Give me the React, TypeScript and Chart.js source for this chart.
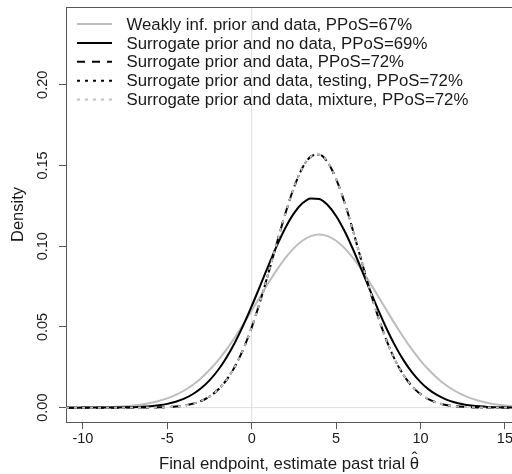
import React, { useEffect, useRef } from "react";
import { Chart, registerables } from "chart.js";

Chart.register(...registerables);

// ---- data ----
const xGrid = [
  -11, -10.5, -10, -9.5, -9, -8.5, -8, -7.5, -7, -6.5, -6, -5.5, -5, -4.5, -4, -3.5, -3, -2.5,
  -2, -1.5, -1, -0.5, 0, 0.5, 1, 1.5, 2, 2.5, 3, 3.5, 4, 4.5, 5, 5.5, 6, 6.5, 7, 7.5, 8, 8.5,
  9, 9.5, 10, 10.5, 11, 11.5, 12, 12.5, 13, 13.5, 14, 14.5, 15, 15.5,
];

const weaklyInfPrior = [
  0.00003, 0.00005, 0.00009, 0.00015, 0.00024, 0.00038, 0.00059, 0.0009, 0.00136, 0.002, 0.00289,
  0.00412, 0.00575, 0.00788, 0.01061, 0.01405, 0.01826, 0.0233, 0.02919, 0.03593, 0.04345, 0.05157,
  0.06014, 0.06886, 0.07744, 0.08553, 0.09277, 0.09883, 0.10339, 0.10624, 0.1072, 0.10624, 0.10339,
  0.09883, 0.09277, 0.08553, 0.07744, 0.06886, 0.06014, 0.05157, 0.04345, 0.03593, 0.02919, 0.0233,
  0.01826, 0.01405, 0.01061, 0.00788, 0.00575, 0.00412, 0.00289, 0.002, 0.00136, 0.0009,
];

const surrogateNoData = [
  0.0, 0.000003, 0.000006, 0.000013, 0.000025, 0.000048, 0.000091, 0.00017, 0.0003, 0.00052, 0.00088,
  0.00146, 0.00234, 0.00367, 0.00559, 0.0083, 0.01201, 0.0169, 0.02317, 0.03096, 0.04024, 0.05096,
  0.06283, 0.07546, 0.08824, 0.10048, 0.11144, 0.12034, 0.12656, 0.12962, 0.12928, 0.12556, 0.11876,
  0.10939, 0.09811, 0.08571, 0.0729, 0.06039, 0.04871, 0.03826, 0.02927, 0.02181, 0.01582, 0.01117,
  0.00769, 0.00516, 0.00336, 0.00214, 0.00132, 0.0008, 0.00047, 0.00027, 0.00015, 0.00008,
];

const surrogateData = [
  0, 0, 0, 0, 0, 0, 0.000003, 0.000007, 0.000017, 0.000039, 0.000085, 0.00018, 0.00036, 0.00071,
  0.00132, 0.00238, 0.00413, 0.00689, 0.01106, 0.01707, 0.02536, 0.0362, 0.04977, 0.06578, 0.08365,
  0.10233, 0.12042, 0.13631, 0.14844, 0.15551, 0.15673, 0.15194, 0.14171, 0.12712, 0.10971, 0.09109,
  0.07275, 0.05589, 0.04131, 0.02937, 0.02009, 0.01322, 0.00837, 0.00509, 0.00298, 0.00168, 0.00091,
  0.00048, 0.00024, 0.00011, 0.00005, 0.00002, 0.00001, 0,
];

const surrogateTesting = [
  0, 0, 0, 0, 0, 0, 0.000003, 0.000007, 0.000017, 0.000039, 0.000085, 0.00018, 0.00036, 0.00071,
  0.00132, 0.00238, 0.00413, 0.00689, 0.01106, 0.01707, 0.02536, 0.0362, 0.04977, 0.06578, 0.08365,
  0.10233, 0.12042, 0.13631, 0.14844, 0.15551, 0.15673, 0.15194, 0.14171, 0.12712, 0.10971, 0.09109,
  0.07275, 0.05589, 0.04131, 0.02937, 0.02009, 0.01322, 0.00837, 0.00509, 0.00298, 0.00168, 0.00091,
  0.00048, 0.00024, 0.00011, 0.00005, 0.00002, 0.00001, 0,
];

const surrogateMixture = [
  0, 0, 0, 0, 0, 0, 0.000003, 0.000007, 0.000017, 0.000039, 0.000085, 0.00018, 0.00036, 0.00071,
  0.00132, 0.00238, 0.00413, 0.00689, 0.01106, 0.01707, 0.02536, 0.0362, 0.04977, 0.06578, 0.08365,
  0.10233, 0.12042, 0.13631, 0.14844, 0.15551, 0.15673, 0.15194, 0.14171, 0.12712, 0.10971, 0.09109,
  0.07275, 0.05589, 0.04131, 0.02937, 0.02009, 0.01322, 0.00837, 0.00509, 0.00298, 0.00168, 0.00091,
  0.00048, 0.00024, 0.00011, 0.00005, 0.00002, 0.00001, 0,
];

const seriesLabels = [
  "Weakly inf. prior and data, PPoS=67%",
  "Surrogate prior and no data, PPoS=69%",
  "Surrogate prior and data, PPoS=72%",
  "Surrogate prior and data, testing, PPoS=72%",
  "Surrogate prior and data, mixture, PPoS=72%",
];

const xTicks = [-10, -5, 0, 5, 10, 15];
const yTicks = [0, 0.05, 0.1, 0.15, 0.2];
const xRange = [-11.0, 15.42];
const yRange = [-0.0089, 0.2482];

const xTitle = "Final endpoint, estimate past trial \u03B8";
const xTitleHat = "\u02C6";
const yTitle = "Density";

// ---- styling ----
const FONT = '"Liberation Sans", Arial, Helvetica, sans-serif';
const GREY = "#bdbdbd";
const AXIS = "#555555";
const TEXT = "#1a1a1a";
const TITLE_SIZE = 16.8;

const toPoints = (ys: number[]) => xGrid.map((x, i) => ({ x, y: ys[i] }));

const boxPlugin = {
  id: "rBox",
  afterDraw(chart: any) {
    const { ctx, chartArea } = chart;
    ctx.save();
    ctx.strokeStyle = AXIS;
    ctx.lineWidth = 1;
    ctx.beginPath();
    ctx.moveTo(chartArea.left, Math.round(chartArea.top) + 0.5);
    ctx.lineTo(chartArea.right, Math.round(chartArea.top) + 0.5);
    ctx.stroke();
    ctx.restore();
  },
};

// puts the hat over the theta at the end of the x-axis title
const hatPlugin = {
  id: "rHat",
  afterDraw(chart: any) {
    const { ctx } = chart;
    const sx = chart.scales.x;
    ctx.save();
    ctx.font = `${TITLE_SIZE}px ${FONT}`;
    const w = ctx.measureText(xTitle).width;
    const wt = ctx.measureText("\u03B8").width;
    const cx = (sx.left + sx.right) / 2 + w / 2 - wt / 2;
    const cy = sx.bottom - (TITLE_SIZE * 1.2) / 2;
    ctx.fillStyle = TEXT;
    ctx.textAlign = "center";
    ctx.textBaseline = "middle";
    ctx.fillText(xTitleHat, cx, cy - 4.5);
    ctx.restore();
  },
};

const LEG = { lineX0: 77, lineX1: 112, textX: 126.5, rowY0: 24, rowStep: 18.9, font: 16.8 };

const legendPlugin = {
  id: "rLegend",
  afterDatasetsDraw(chart: any) {
    const { ctx } = chart;
    ctx.save();
    ctx.font = `${LEG.font}px ${FONT}`;
    ctx.textBaseline = "middle";
    ctx.textAlign = "left";
    let row = 0;
    chart.data.datasets.forEach((ds: any) => {
      if (!ds.inLegend) return;
      const y = LEG.rowY0 + row * LEG.rowStep;
      ctx.strokeStyle = ds.borderColor;
      ctx.lineWidth = ds.borderWidth;
      ctx.setLineDash(ds.borderDash || []);
      ctx.beginPath();
      ctx.moveTo(LEG.lineX0, y);
      ctx.lineTo(LEG.lineX1, y);
      ctx.stroke();
      ctx.setLineDash([]);
      ctx.fillStyle = TEXT;
      ctx.fillText(ds.label, LEG.textX, y + 1);
      row++;
    });
    ctx.restore();
  },
};

export default function App() {
  const ref = useRef<HTMLCanvasElement>(null);

  useEffect(() => {
    const canvas = ref.current;
    if (!canvas) return;
    const curve = (label: string, ys: number[], color: string, dash: number[], order: number) => ({
      label,
      data: toPoints(ys),
      borderColor: color,
      borderWidth: 2,
      borderDash: dash,
      pointRadius: 0,
      fill: false,
      cubicInterpolationMode: "monotone",
      order,
      inLegend: true,
    });
    const chart = new Chart(canvas, {
      type: "line",
      data: {
        datasets: [
          {
            label: "v0",
            data: [
              { x: 0, y: -1 },
              { x: 0, y: 1 },
            ],
            borderColor: "#dddddd",
            borderWidth: 1,
            pointRadius: 0,
            tension: 0,
            order: 20,
          },
          {
            label: "h0",
            data: [
              { x: -30, y: 0 },
              { x: 30, y: 0 },
            ],
            borderColor: "#dddddd",
            borderWidth: 1,
            pointRadius: 0,
            tension: 0,
            order: 19,
          },
          curve(seriesLabels[0], weaklyInfPrior, GREY, [], 5),
          curve(seriesLabels[1], surrogateNoData, "#000000", [], 4),
          curve(seriesLabels[2], surrogateData, "#000000", [8, 7], 3),
          curve(seriesLabels[3], surrogateTesting, "#000000", [3, 5], 2),
          curve(seriesLabels[4], surrogateMixture, GREY, [3, 5], 1),
        ] as any,
      },
      options: {
        responsive: false,
        animation: false,
        devicePixelRatio: 1,
        layout: { padding: { top: 7, left: 0, right: 0, bottom: 0 } },
        plugins: {
          legend: { display: false },
          tooltip: { enabled: false },
        },
        scales: {
          x: {
            type: "linear",
            min: xRange[0],
            max: xRange[1],
            afterBuildTicks: (s: any) => {
              s.ticks = xTicks.map((v) => ({ value: v }));
            },
            afterFit: (s: any) => {
              s.height = 52;
              s.paddingLeft = 0;
              s.paddingRight = 0;
            },
            ticks: {
              autoSkip: false,
              maxRotation: 0,
              minRotation: 0,
              padding: 1,
              color: TEXT,
              font: { family: FONT, size: 14.5 },
              callback: (v: any) => String(v),
            },
            grid: {
              drawOnChartArea: false,
              drawTicks: true,
              tickLength: 7,
              tickColor: AXIS,
              tickWidth: 1,
            },
            border: { display: true, color: AXIS, width: 1 },
            title: {
              display: true,
              text: xTitle,
              color: TEXT,
              font: { family: FONT, size: TITLE_SIZE },
              padding: { top: 0, bottom: 0 },
            },
          },
          y: {
            type: "linear",
            min: yRange[0],
            max: yRange[1],
            afterBuildTicks: (s: any) => {
              s.ticks = yTicks.map((v) => ({ value: v }));
            },
            afterFit: (s: any) => {
              s.width = 66;
              s.paddingTop = 0;
              s.paddingBottom = 0;
            },
            ticks: {
              autoSkip: false,
              minRotation: 90,
              maxRotation: 90,
              crossAlign: "center",
              padding: 2,
              color: TEXT,
              font: { family: FONT, size: 14.5 },
              callback: (v: any) => Number(v).toFixed(2),
            },
            grid: {
              drawOnChartArea: false,
              drawTicks: true,
              tickLength: 7,
              tickColor: AXIS,
              tickWidth: 1,
            },
            border: { display: true, color: AXIS, width: 1 },
            title: {
              display: true,
              text: yTitle,
              color: TEXT,
              font: { family: FONT, size: 16.5 },
              padding: { top: 9, bottom: 0 },
            },
          },
        },
      } as any,
      plugins: [boxPlugin, legendPlugin, hatPlugin],
    });
    return () => chart.destroy();
  }, []);

  return (
    <div style={{ position: "fixed", left: 0, top: 0, width: 512, height: 474, background: "#ffffff" }}>
      <canvas ref={ref} width={512} height={474} style={{ width: 512, height: 474, display: "block" }} />
    </div>
  );
}
